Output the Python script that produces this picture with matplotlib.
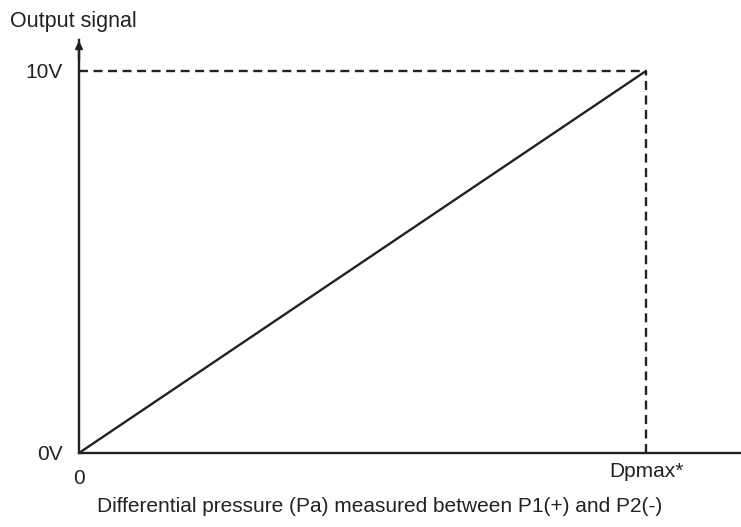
import matplotlib
matplotlib.use("Agg")
import matplotlib.pyplot as plt

# data: relative pressure (0 .. Dpmax) vs output voltage
pressure = [0, 1]
voltage = [0, 10]
x_labels = ["0", "Dpmax*"]
y_labels = ["0V", "10V"]

plt.rcParams['font.family'] = ['Liberation Sans', 'DejaVu Sans']
col = '#222222'
fs = 15
dash = (0, (3.8, 2.35))

fig = plt.figure(figsize=(7.41, 5.27), dpi=100)
ax = fig.add_axes([79 / 741, 74 / 527, 662 / 741, 413 / 527])
ax.set_xlim(0, 662 / 567)
ax.set_ylim(0, 10 * 413 / 382)

ax.plot(pressure, voltage, color=col, lw=1.7, solid_capstyle='round')
# dashed guides to the max point
ax.plot([0, pressure[1]], [voltage[1], voltage[1]], color=col, lw=1.7, ls=dash)
ax.plot([pressure[1], pressure[1]], [0, voltage[1]], color=col, lw=1.7, ls=dash)

for s in ['top', 'right']:
    ax.spines[s].set_visible(False)
for s in ['left', 'bottom']:
    ax.spines[s].set_color(col)
    ax.spines[s].set_linewidth(1.7)
ax.set_xticks([])
ax.set_yticks(voltage)
ax.set_yticklabels(y_labels, fontsize=fs, color=col)
ax.tick_params(axis='y', length=0, pad=12)

# arrow on y axis
ax.annotate('', xy=(0, ax.get_ylim()[1] + 0.05), xytext=(0, ax.get_ylim()[1] - 0.6),
            arrowprops=dict(arrowstyle='-|>', color=col, lw=1.7, mutation_scale=10),
            annotation_clip=False)

ax.text(pressure[0], -0.68, x_labels[0], ha='center', va='center', fontsize=fs, color=col)
ax.text(pressure[1], -0.48, x_labels[1], ha='center', va='center', fontsize=fs, color=col)
fig.text(10 / 741, 1 - 22 / 527, "Output signal", ha='left', va='center', fontsize=15.5, color=col)
fig.text(380 / 741, 1 - 507 / 527, "Differential pressure (Pa) measured between P1(+) and P2(-)",
         ha='center', va='center', fontsize=fs, color=col)

fig.savefig("out.png", dpi=100)
